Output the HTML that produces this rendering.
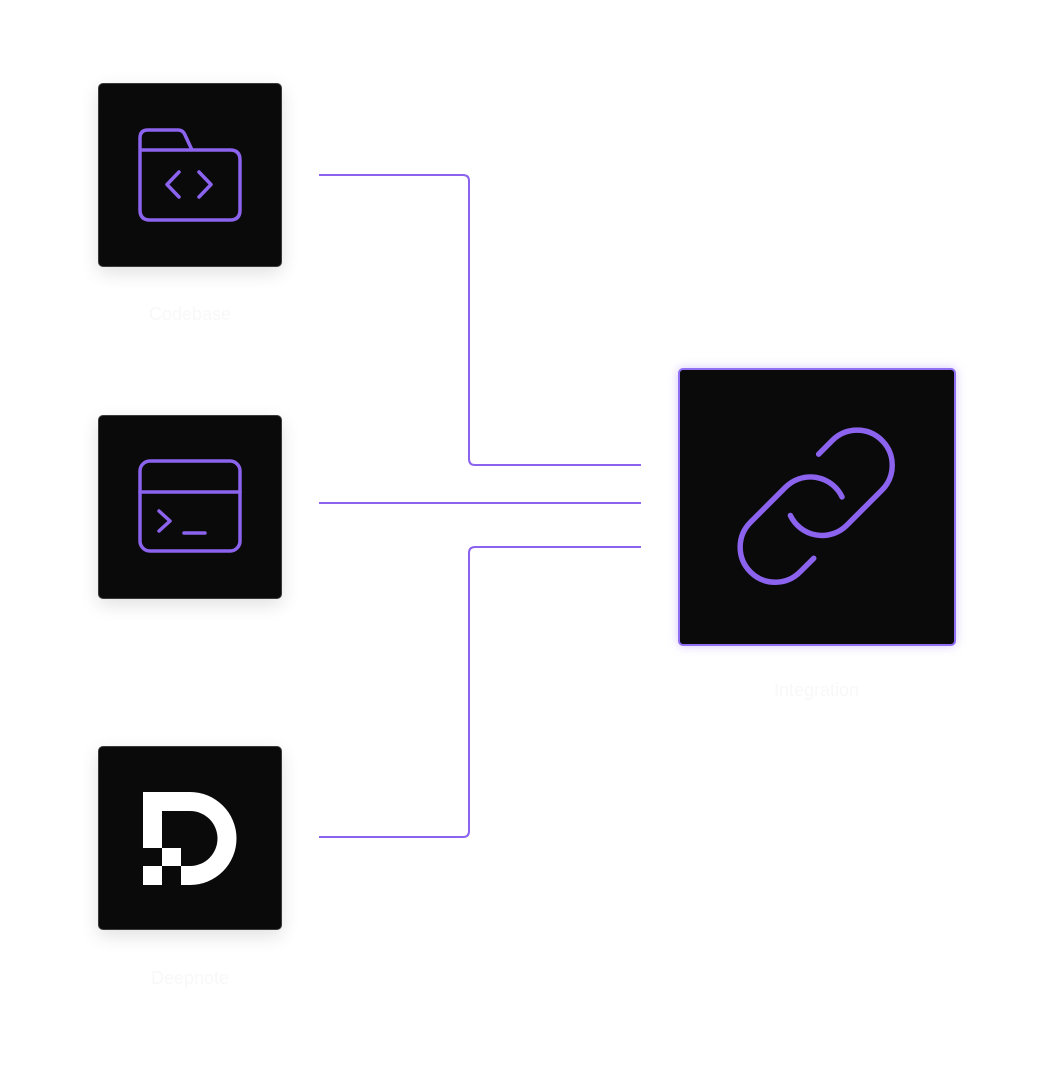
<!DOCTYPE html>
<html><head><meta charset="utf-8"><style>
html,body{margin:0;padding:0;background:#fff;width:1054px;height:1080px;overflow:hidden;font-family:"Liberation Sans",sans-serif}
.box{position:absolute;width:182px;height:182px;background:#0a0a0a;border:1px solid #3a3a3a;border-radius:5px;box-shadow:0 6px 18px rgba(0,0,0,0.12)}
.big{position:absolute;left:678px;top:368px;width:274px;height:274px;background:#0a0a0a;border:2px solid #8f6ff2;border-radius:5px;box-shadow:0 0 10px rgba(139,92,246,0.35)}
.lbl{position:absolute;color:#f8f8f8;font-size:18px;text-align:center}
svg{position:absolute;left:0;top:0}
</style></head><body>
<div class="box" style="left:98px;top:83px"></div>
<div class="box" style="left:98px;top:415px"></div>
<div class="box" style="left:98px;top:746px"></div>
<div class="big"></div>
<div class="lbl" style="left:98px;top:304px;width:184px">Codebase</div>
<div class="lbl" style="left:98px;top:968px;width:184px">Deepnote</div>
<div class="lbl" style="left:679px;top:680px;width:275px">Integration</div>
<svg width="1054" height="1080" viewBox="0 0 1054 1080">
<g fill="none" stroke="#8b63ee" stroke-width="2">
<path d="M319 175 H463 Q469 175 469 181 V459 Q469 465 475 465 H641"/>
<path d="M319 503 H641"/>
<path d="M319 837 H463 Q469 837 469 831 V553 Q469 547 475 547 H641"/>
</g>
<g fill="none" stroke="#8b63ee" stroke-width="3.5" stroke-linecap="round" stroke-linejoin="round">
<path d="M140 150 V138 Q140 130 148 130 H178 Q183 130 185 135 L192 150 H230 Q240 150 240 160 V210 Q240 220 230 220 H150 Q140 220 140 210 Z M140 150 H192"/>
<path d="M179 172 L167 184.5 L179 197 M199 172 L211 184.5 L199 197"/>
<rect x="140" y="461" width="100" height="90" rx="10"/>
<path d="M140 492 H240 M159 511 L170 521 L159 531 M184 533 H205"/>
</g>
<g fill="#fff">
<path d="M143 792 H190 A46.5 46.5 0 0 1 190 885 H181 V866 H190 A27.5 27.5 0 0 0 190 811 H162 V848 H143 Z"/>
<rect x="162" y="848" width="19" height="18"/>
<rect x="143" y="866" width="19" height="19"/>
</g>
<g transform="translate(722.6 412.6) scale(7.8)" fill="none" stroke="#8b63ee" stroke-width="0.7" stroke-linecap="round" stroke-linejoin="round">
<g transform="matrix(0,-1,-1,0,24,24)">
<path d="M13.19 8.688a4.5 4.5 0 0 1 1.242 7.244l-4.5 4.5a4.5 4.5 0 0 1-6.364-6.364l1.757-1.757m13.35-.622 1.757-1.757a4.5 4.5 0 0 0-6.364-6.364l-4.5 4.5a4.5 4.5 0 0 0 1.242 7.244"/>
</g>
</g>
</svg>
</body></html>
